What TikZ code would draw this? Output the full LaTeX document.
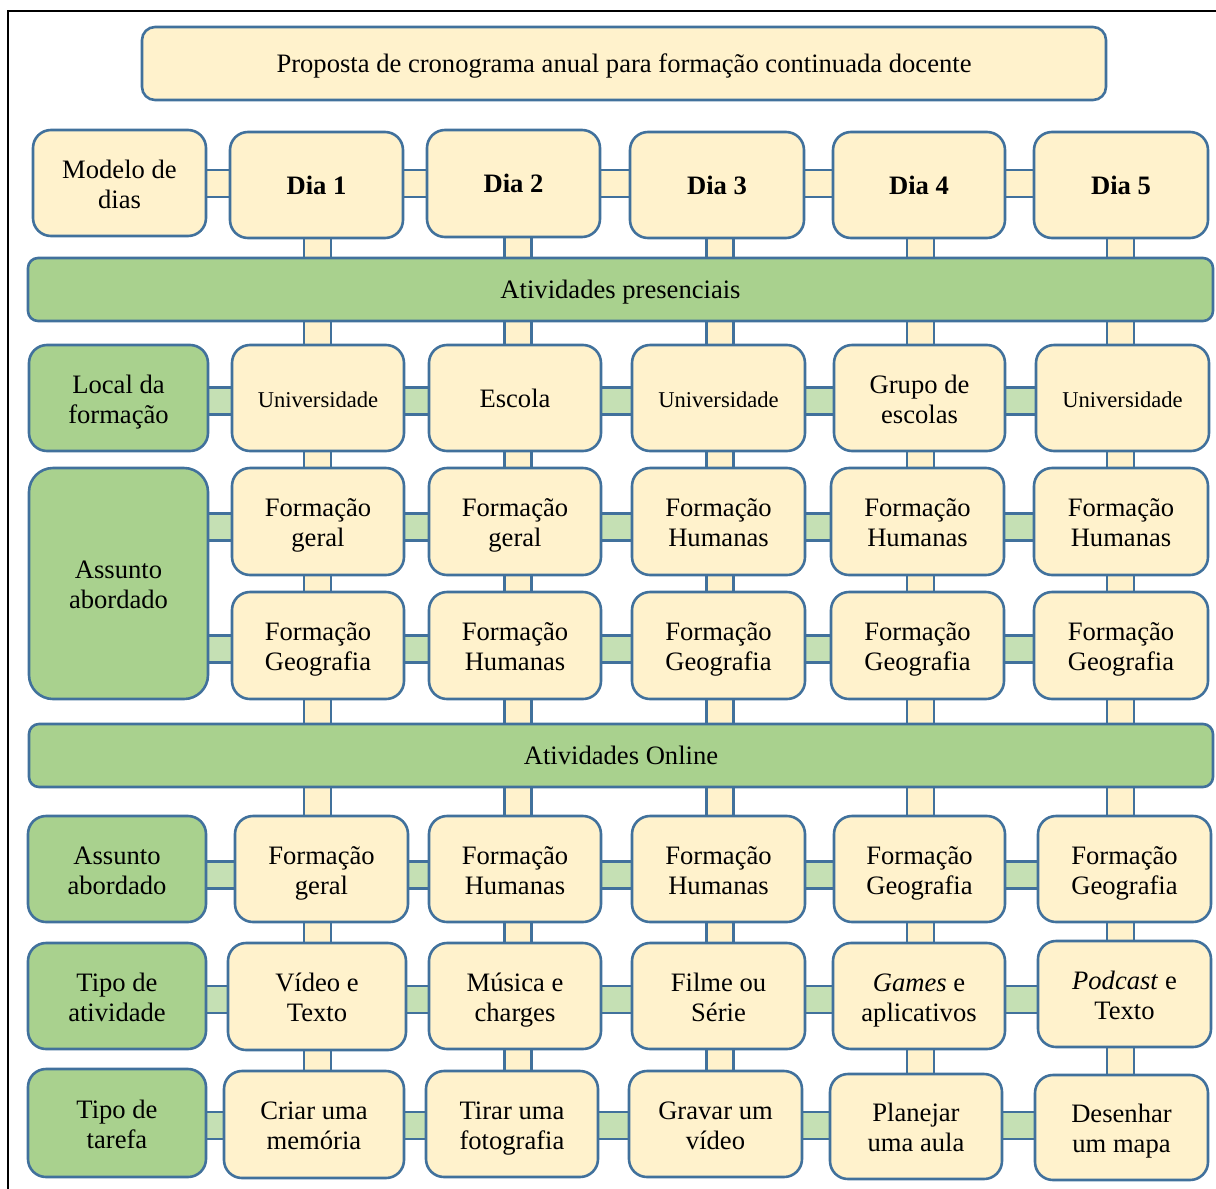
\documentclass[tikz,border=0pt]{standalone}
\usepackage{fontspec}
\setmainfont{Liberation Serif}
\usetikzlibrary{calc,backgrounds}

\definecolor{cellfill}{HTML}{FFF2CC}
\definecolor{edgeblue}{HTML}{41719C}
\definecolor{headgreen}{HTML}{A9D18E}
\definecolor{linkgreen}{HTML}{C5E0B4}

\tikzset{
  cellbase/.style={draw=edgeblue, line width=2.6pt, rectangle, inner sep=0pt,
    outer sep=0pt, align=center, font=\fontsize{26.6}{30}\selectfont,
    text height=52pt, text depth=1.6pt},
  oneline/.style={text height=20pt, text depth=2pt},
  ycell/.style={cellbase, fill=cellfill, rounded corners=18pt},
  gcell/.style={cellbase, fill=headgreen, rounded corners=18pt},
  titlebox/.style={cellbase, oneline, fill=cellfill, rounded corners=13pt},
  band/.style={cellbase, oneline, fill=headgreen, rounded corners=10pt},
  smalltext/.style={oneline, font=\fontsize{22.6}{27}\selectfont},
  hlinkY/.style={draw=edgeblue, line width=2.6pt, fill=cellfill},
  hlinkG/.style={draw=edgeblue, line width=2.6pt, fill=linkgreen},
  vlinkY/.style={draw=edgeblue, line width=2.6pt, fill=cellfill},
}

% a box spanning the corners (x1,y1)-(x2,y2): style, name, x1, y1, x2, y2, text
\newcommand\cell[7]{%
  \node[#1, minimum width={#5pt-#3pt}, minimum height={#6pt-#4pt}]
    (#2) at ({(#3+#5)/2},{(#4+#6)/2}) {#7};}
% horizontal connector between two nodes along a row coordinate
\newcommand\hlink[4][hlinkG]{%
  \path[#1] ($(#2.east |- #4)+(-5,-13.5)$) rectangle ($(#3.west |- #4)+(5,13.5)$);}
% vertical connector between two nodes along a column coordinate
\newcommand\vlink[3]{%
  \path[vlinkY] ($(#1.south -| #3)+(-13.5,-5)$) rectangle ($(#2.north -| #3)+(13.5,5)$);}

\begin{document}
\begin{tikzpicture}[x={(1pt,0)}, y={(0,-1pt)}]
\useasboundingbox (0,0) rectangle (1216,1189);
\clip (0,0) rectangle (1216,1189);

% outer frame
\draw[line width=2pt] (8,1200) -- (8,11) -- (1230,11);

% column and row guides for the connectors
\coordinate (c1) at (317.5,0);
\coordinate (c2) at (518,0);
\coordinate (c3) at (720,0);
\coordinate (c4) at (920.5,0);
\coordinate (c5) at (1120.5,0);
\coordinate (rD) at (0,183.5);
\coordinate (rL) at (0,401);
\coordinate (rF) at (0,527);
\coordinate (rG) at (0,649);
\coordinate (rO) at (0,875);
\coordinate (rT) at (0,999.5);
\coordinate (rK) at (0,1125.5);

% title
\cell{titlebox}{title}{142}{27}{1106}{100}
  {Proposta de cronograma anual para formação continuada docente}

% days
\cell{ycell}{m}{33}{130}{206}{236}{Modelo de\\dias}
\cell{ycell,oneline}{d1}{230}{132}{403}{238}{\textbf{Dia 1}}
\cell{ycell,oneline}{d2}{427}{130}{600}{237}{\textbf{Dia 2}}
\cell{ycell,oneline}{d3}{630}{132}{804}{238}{\textbf{Dia 3}}
\cell{ycell,oneline}{d4}{833}{132}{1005}{238}{\textbf{Dia 4}}
\cell{ycell,oneline}{d5}{1034}{132}{1208}{238}{\textbf{Dia 5}}

% face-to-face band
\cell{band}{b1}{28}{258}{1213}{321}{Atividades presenciais}

% location
\cell{gcell}{l0}{29}{345}{208}{451}{Local da\\formação}
\cell{ycell,smalltext}{l1}{232}{345}{404}{451}{Universidade}
\cell{ycell,oneline}{l2}{429}{345}{601}{451}{Escola}
\cell{ycell,smalltext}{l3}{632}{345}{805}{451}{Universidade}
\cell{ycell}{l4}{834}{345}{1005}{451}{Grupo de\\escolas}
\cell{ycell,smalltext}{l5}{1036}{345}{1209}{451}{Universidade}

% subjects, face-to-face
\cell{gcell,rounded corners=24pt}{a0}{29}{468}{208}{699}{Assunto\\abordado}
\cell{ycell}{f1}{232}{468}{404}{575}{Formação\\geral}
\cell{ycell}{f2}{429}{468}{601}{575}{Formação\\geral}
\cell{ycell}{f3}{632}{468}{805}{575}{Formação\\Humanas}
\cell{ycell}{f4}{831}{468}{1004}{575}{Formação\\Humanas}
\cell{ycell}{f5}{1034}{468}{1208}{575}{Formação\\Humanas}

\cell{ycell}{g1}{232}{592}{404}{699}{Formação\\Geografia}
\cell{ycell}{g2}{429}{592}{601}{699}{Formação\\Humanas}
\cell{ycell}{g3}{632}{592}{805}{699}{Formação\\Geografia}
\cell{ycell}{g4}{831}{592}{1004}{699}{Formação\\Geografia}
\cell{ycell}{g5}{1034}{592}{1208}{699}{Formação\\Geografia}

% online band
\cell{band}{b2}{29}{724}{1213}{787}{Atividades Online}

% subjects, online
\cell{gcell}{o0}{28}{816}{206}{922}{Assunto\\abordado}
\cell{ycell}{o1}{235}{816}{408}{922}{Formação\\geral}
\cell{ycell}{o2}{429}{816}{601}{922}{Formação\\Humanas}
\cell{ycell}{o3}{632}{816}{805}{922}{Formação\\Humanas}
\cell{ycell}{o4}{834}{816}{1005}{922}{Formação\\Geografia}
\cell{ycell}{o5}{1038}{816}{1211}{922}{Formação\\Geografia}

% activity type
\cell{gcell}{t0}{28}{943}{206}{1049}{Tipo de\\atividade}
\cell{ycell}{t1}{228}{943}{406}{1050}{Vídeo e\\Texto}
\cell{ycell}{t2}{429}{943}{601}{1049}{Música e\\charges}
\cell{ycell}{t3}{632}{943}{805}{1049}{Filme ou\\Série}
\cell{ycell}{t4}{833}{943}{1005}{1049}{\textit{Games} e\\aplicativos}
\cell{ycell}{t5}{1038}{941}{1211}{1047}{\textit{Podcast} e\\Texto}

% task type
\cell{gcell}{k0}{28}{1069}{206}{1177}{Tipo de\\tarefa}
\cell{ycell}{k1}{224}{1071}{404}{1178}{Criar uma\\memória}
\cell{ycell}{k2}{426}{1071}{598}{1177}{Tirar uma\\fotografia}
\cell{ycell}{k3}{629}{1071}{802}{1177}{Gravar um\\vídeo}
\cell{ycell}{k4}{830}{1074}{1002}{1179}{Planejar\\uma aula}
\cell{ycell}{k5}{1035}{1075}{1208}{1180}{Desenhar\\um mapa}

\begin{scope}[on background layer]
  % row connectors
  \hlink[hlinkY]{m}{d1}{rD}
  \hlink[hlinkY]{d1}{d2}{rD}
  \hlink[hlinkY]{d2}{d3}{rD}
  \hlink[hlinkY]{d3}{d4}{rD}
  \hlink[hlinkY]{d4}{d5}{rD}
  \foreach \r/\p/\q in {rL/l0/l1, rL/l1/l2, rL/l2/l3, rL/l3/l4, rL/l4/l5,
                        rF/a0/f1, rF/f1/f2, rF/f2/f3, rF/f3/f4, rF/f4/f5,
                        rG/a0/g1, rG/g1/g2, rG/g2/g3, rG/g3/g4, rG/g4/g5,
                        rO/o0/o1, rO/o1/o2, rO/o2/o3, rO/o3/o4, rO/o4/o5,
                        rT/t0/t1, rT/t1/t2, rT/t2/t3, rT/t3/t4, rT/t4/t5,
                        rK/k0/k1, rK/k1/k2, rK/k2/k3, rK/k3/k4, rK/k4/k5}
    {\hlink{\p}{\q}{\r}}
  % column connectors
  \foreach \i in {1,...,5} {
    \vlink{d\i}{b1}{c\i}
    \vlink{b1}{l\i}{c\i}
    \vlink{l\i}{f\i}{c\i}
    \vlink{f\i}{g\i}{c\i}
    \vlink{g\i}{b2}{c\i}
    \vlink{b2}{o\i}{c\i}
    \vlink{o\i}{t\i}{c\i}
    \vlink{t\i}{k\i}{c\i}
  }
\end{scope}
\end{tikzpicture}
\end{document}
